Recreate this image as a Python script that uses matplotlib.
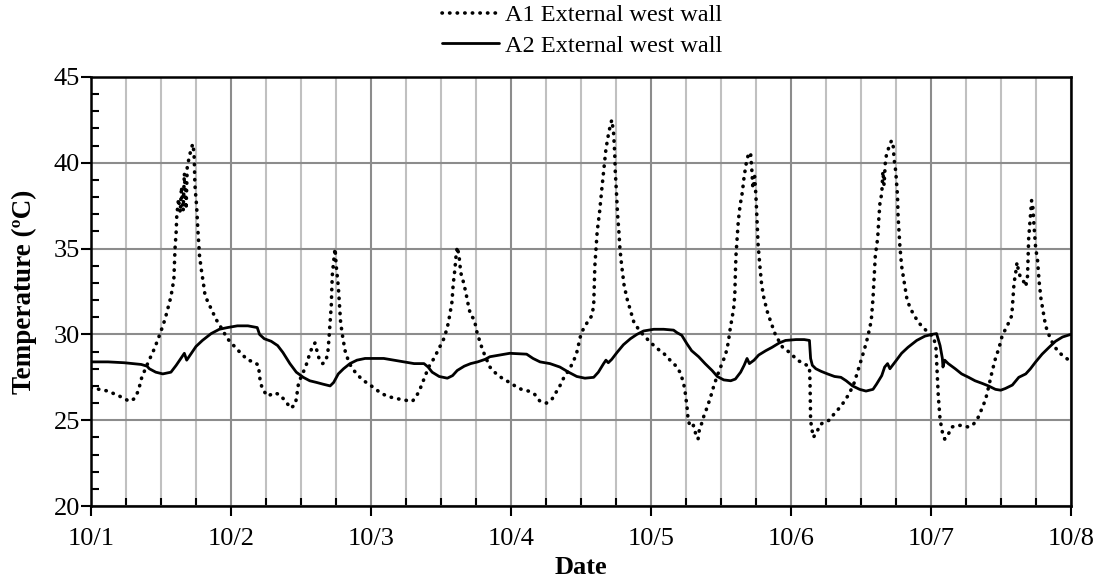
import matplotlib
matplotlib.use('Agg')
import matplotlib.pyplot as plt
from matplotlib.ticker import MultipleLocator

plt.rcParams['font.family'] = ['Liberation Serif', 'DejaVu Serif']

# A1 external west wall (dotted), hours since 10/1 00:00
a1_hours = [0, 1.4, 2.9, 4.9, 6.6, 7.4, 8.1, 8.7, 9.7, 10.9, 11.9, 12.7, 13.4, 13.7,
            14.2, 14.4, 14.6, 14.7, 15.0, 15.3, 15.5, 15.8, 16.0, 16.3, 16.5, 16.9,
            17.2, 17.5, 17.7, 17.8, 17.9, 18.1, 18.3, 18.6, 18.9, 19.3, 19.5, 20.0,
            20.6, 21.4, 22.3, 23.4, 24.6, 25.7, 26.9, 28.0, 28.7, 29.0, 29.4, 30.3,
            31.4, 32.3, 33.4, 34.2, 35.0, 35.2, 35.6, 36.4, 37.1, 37.5, 38.0, 38.4,
            38.7, 39.1, 39.7, 40.2, 40.6, 40.8, 41.0, 41.2, 41.3, 41.4, 41.6, 41.7,
            41.85, 42.0, 42.1, 42.4, 42.6, 42.8, 43.2, 43.6, 44.3, 45.3, 46.4, 47.6,
            48.5, 49.6, 50.8, 51.9, 53.3, 54.2, 55.1, 55.8, 56.4, 57.1, 57.9, 58.8,
            59.7, 60.5, 61.1, 61.5, 61.9, 62.1, 62.4, 62.6, 62.8, 63.1, 63.4, 63.9,
            64.3, 64.7, 65.1, 65.7, 66.2, 66.9, 67.5, 68.4, 69.5, 70.7, 71.8, 72.7,
            73.8, 75.0, 76.1, 77.0, 78.1, 79.0, 79.7, 80.4, 81.1, 81.9, 82.7, 83.3,
            83.9, 84.4, 85.1, 85.9, 86.2, 86.3, 86.4, 86.6, 86.8, 87.2, 87.6, 88.0,
            88.3, 88.7, 89.0, 89.3, 89.6, 89.8, 89.9, 90.1, 90.3, 90.5, 90.7, 91.0,
            91.4, 91.9, 92.5, 93.1, 93.9, 94.75, 95.9, 97.0, 98.2, 99.3, 100.2, 101.0,
            101.6, 101.9, 102.2, 102.4, 102.8, 103.3, 103.7, 104.1, 104.3, 104.7,
            105.1, 105.6, 106.2, 106.8, 107.4, 108.2, 108.8, 109.3, 109.5, 109.9,
            110.2, 110.4, 110.5, 110.6, 110.8, 111.0, 111.3, 111.7, 112.0, 112.4,
            112.7, 113.1, 113.3, 113.5, 113.8, 114.0, 114.1, 114.4, 114.7, 115.0,
            115.4, 116.0, 116.6, 117.4, 118.6, 120.0, 121.1, 122.3, 123.2, 123.3,
            123.35, 123.4, 123.6, 123.9, 124.2, 124.6, 124.9, 125.7, 126.6, 127.5,
            128.3, 129.2, 130.1, 130.9, 131.8, 132.6, 133.2, 133.8, 134.1, 134.3,
            134.5, 134.9, 135.1, 135.3, 135.6, 135.8, 136.0, 136.2, 136.4, 137.0,
            137.3, 137.6, 137.7, 138.0, 138.3, 138.4, 138.7, 139.0, 139.4, 139.9,
            140.4, 141.0, 141.9, 142.7, 143.6, 144.5, 144.9, 145.1, 145.3, 145.6,
            146.0, 146.4, 146.9, 147.6, 148.5, 149.3, 150.5, 151.4, 152.2, 152.8,
            153.4, 153.9, 154.5, 155.1, 155.7, 156.2, 156.8, 157.4, 157.9, 158.1,
            158.3, 158.5, 158.8, 159.1, 159.5, 160.0, 160.3, 160.6, 160.7, 160.8,
            161.1, 161.3, 161.5, 161.7, 162.0, 162.3, 162.6, 162.9, 163.3, 163.7,
            164.3, 165.1, 166.0, 166.9, 167.7, 168.0]
a1_temp = [26.9, 26.8, 26.7, 26.4, 26.1, 26.25, 26.7, 27.5, 28.3, 29.2, 30.1, 30.9, 31.8, 32.2,
           33.2, 35.0, 36.0, 36.9, 37.9, 37.1, 38.6, 37.2, 39.4, 37.3, 39.8, 40.4,
           40.9, 41.1, 40.25, 38.8, 38.3, 37.5, 36.2, 34.6, 33.8, 32.9, 32.4, 31.9,
           31.5, 30.9, 30.4, 29.75, 29.3, 28.9, 28.5, 28.4, 28.2, 27.3, 26.8, 26.4,
           26.6, 26.5, 26.1, 25.7, 25.9, 26.25, 27.2, 27.8, 28.4, 28.9, 29.3, 29.5,
           29.1, 28.6, 28.3, 28.4, 28.9, 29.75, 30.7, 31.7, 32.8, 33.6, 34.2, 34.6,
           35.0, 34.2, 33.8, 32.8, 31.7, 30.7, 29.75, 29.0, 28.3, 27.8, 27.4, 27.1,
           26.9, 26.6, 26.4, 26.3, 26.2, 26.15, 26.1, 26.4, 26.8, 27.4, 28.1, 28.6,
           29.2, 29.75, 30.4, 31.1, 31.9, 32.9, 33.8, 34.6, 35.1, 34.6, 33.6, 33.0,
           32.4, 31.7, 31.1, 30.9, 30.1, 29.35, 28.8, 28.1, 27.7, 27.4, 27.2, 27.0,
           26.8, 26.7, 26.5, 26.1, 26.0, 26.2, 26.6, 27.0, 27.5, 27.9, 28.4, 28.95,
           29.85, 30.3, 30.7, 31.1, 31.7, 32.9, 34.0, 35.0, 36.0, 37.1, 38.5, 39.8,
           40.8, 41.6, 42.1, 42.5, 41.8, 40.6, 39.5, 38.3, 36.95, 36.1, 35.0, 34.0,
           32.9, 32.1, 31.4, 30.7, 30.3, 29.95, 29.55, 29.2, 28.9, 28.5, 28.2, 27.8,
           27.2, 26.6, 25.8, 25.0, 24.6, 24.7, 24.2, 23.9, 24.4, 24.8,
           25.25, 25.7, 26.3, 27.0, 27.6, 28.3, 28.8, 29.55, 30.1, 30.9,
           31.5, 32.3, 33.6, 34.6, 35.6, 36.6, 37.5, 38.3, 39.2, 40.05,
           40.45, 40.6, 39.7, 38.5, 39.2, 38.2, 37.5, 35.2, 34.0, 32.9,
           32.1, 31.3, 30.7, 29.95, 29.25, 28.9, 28.5, 28.3, 28.1, 27.2,
           26.25, 25.0, 24.5, 24.0, 24.2, 24.4, 24.7, 24.9, 25.0, 25.4,
           25.7, 26.1, 26.6, 27.2, 28.2, 29.1, 29.85, 30.8, 32.1, 33.4,
           34.6, 35.6, 36.75, 37.7, 38.2, 39.5, 38.7, 39.95, 40.45, 41.1,
           41.3, 40.9, 40.25, 39.5, 38.1, 36.9, 35.2, 34.0, 33.15, 32.1,
           31.6, 31.2, 30.7, 30.4, 30.1, 29.85, 29.2, 27.8, 26.4, 25.05,
           24.3, 23.9, 24.1, 24.6, 24.7, 24.7, 24.6, 24.8, 25.2, 25.7,
           26.2, 26.9, 27.8, 28.6, 29.2, 29.85, 30.3, 30.7, 31.1, 32.1,
           33.05, 33.4, 34.2, 33.6, 33.25, 33.05, 32.8, 33.4, 34.6, 35.6,
           36.9, 37.8, 37.5, 36.4, 35.0, 34.4, 33.05, 32.1, 31.3, 30.5,
           29.95, 29.35, 28.95, 28.7, 28.5, 28.4]

# A2 external west wall (solid)
a2_hours = [0, 2.9, 5.7, 8.6, 9.6, 10.0, 11.1, 12.3, 13.7, 14.6, 15.4, 16.0, 16.4,
            17.1, 18.0, 19.1, 20.6, 22.0, 23.4, 25.1, 26.9, 28.5, 28.9, 29.7, 30.9,
            32.0, 32.9, 34.1, 35.2, 36.4, 37.5, 38.7, 39.8, 41.0, 41.6, 42.4, 43.3,
            44.4, 45.6, 47.0, 48.5, 50.2, 51.9, 53.6, 55.4, 57.1, 57.8, 58.5, 59.7,
            61.1, 62.0, 62.8, 64.0, 65.1, 66.3, 67.6, 68.4, 70.1, 71.8, 74.7, 75.8,
            77.0, 78.7, 80.4, 81.9, 83.3, 84.7, 86.2, 87.0, 87.9, 88.3, 88.7, 89.3,
            90.2, 91.3, 92.5, 93.6, 94.75, 96.5, 98.2, 99.9, 100.5, 101.3, 102.2,
            103.0, 104.2, 105.3, 106.5, 107.4, 108.5, 109.7, 110.5, 111.4, 112.0,
            112.5, 112.9, 113.7, 114.5, 115.7, 116.8, 118.0, 119.1, 120.9, 122.3,
            123.2, 123.4, 123.7, 124.3, 125.2, 126.3, 127.5, 128.6, 129.5, 130.6,
            131.8, 132.9, 134.1, 134.7, 135.6, 136.1, 136.6, 137.0, 137.9, 139.0,
            140.1, 141.6, 143.0, 144.2, 145.0, 145.6, 146.0, 146.1, 146.4, 147.0,
            148.2, 149.3, 150.5, 151.6, 152.8, 153.9, 155.1, 156.0, 156.8, 158.0,
            159.1, 160.3, 161.1, 162.0, 163.1, 164.3, 165.4, 166.6, 168.0]
a2_temp = [28.4, 28.4, 28.35, 28.25, 28.15, 28.0, 27.8, 27.7, 27.8, 28.2, 28.6, 28.9, 28.5,
           28.85, 29.3, 29.65, 30.05, 30.3, 30.4, 30.5, 30.5, 30.4, 30.0, 29.75, 29.6,
           29.35, 28.95, 28.3, 27.8, 27.5, 27.3, 27.2, 27.1, 27.0, 27.2, 27.7, 28.0,
           28.3, 28.5, 28.6, 28.6, 28.6, 28.5, 28.4, 28.3, 28.3, 28.1, 27.8, 27.55,
           27.45, 27.6, 27.9, 28.15, 28.3, 28.4, 28.55, 28.7, 28.8, 28.9, 28.85, 28.6,
           28.4, 28.3, 28.1, 27.8, 27.55, 27.45, 27.5, 27.8, 28.3, 28.5, 28.35, 28.55,
           28.95, 29.4, 29.75, 30.0, 30.2, 30.3, 30.3, 30.25, 30.1, 29.95, 29.45,
           29.05, 28.7, 28.3, 27.9, 27.55, 27.35, 27.3, 27.4, 27.8, 28.2,
           28.6, 28.3, 28.5, 28.8, 29.05, 29.25, 29.5, 29.65, 29.7, 29.7,
           29.65, 28.6, 28.2, 28.0, 27.85, 27.7, 27.55, 27.5, 27.3, 27.0,
           26.8, 26.7, 26.8, 27.1, 27.6, 28.1, 28.3, 28.0, 28.4, 28.9,
           29.25, 29.65, 29.9, 30.0, 30.05, 29.35, 28.6, 28.1, 28.5, 28.3,
           28.0, 27.7, 27.5, 27.3, 27.15, 27.0, 26.8, 26.75, 26.85, 27.05,
           27.5, 27.7, 28.0, 28.4, 28.85, 29.25, 29.6, 29.85, 30.0]

day_labels = ['10/1', '10/2', '10/3', '10/4', '10/5', '10/6', '10/7', '10/8']

fig = plt.figure(figsize=(10.97, 5.81), dpi=100)
ax = fig.add_axes([0.083, 0.129, 0.893, 0.7385])

a1_days = [h / 24 for h in a1_hours]
a2_days = [h / 24 for h in a2_hours]

ax.plot(a1_days, a1_temp, color='black', lw=2.6, linestyle=(0, (0.1, 2.0)),
        dash_capstyle='round', label='A1 External west wall', zorder=3)
ax.plot(a2_days, a2_temp, color='black', lw=2.0, solid_capstyle='round',
        label='A2 External west wall', zorder=4)

ax.set_xlim(0, 7)
ax.set_ylim(20, 45)
ax.set_xticks(range(len(day_labels)))
ax.set_xticklabels(day_labels)
ax.xaxis.set_minor_locator(MultipleLocator(0.25))
ax.yaxis.set_major_locator(MultipleLocator(5))
ax.yaxis.set_minor_locator(MultipleLocator(1))

# grid: horizontal at every 5, vertical every 6 h (days darker)
ax.grid(axis='y', which='major', color='#8c8c8c', lw=1.5)
ax.grid(axis='x', which='major', color='#8c8c8c', lw=1.5)
for d in range(28):
    if d % 4:
        ax.axvline(d / 4, color='#c0c0c0', lw=1.5, zorder=0)
ax.set_axisbelow(True)

ax.tick_params(axis='both', which='major', direction='out', length=7, width=1.5,
               labelsize=19, color='black')
ax.tick_params(axis='both', which='minor', direction='in', length=6, width=1.5,
               color='black')
ax.tick_params(axis='x', which='major', pad=9)
ax.tick_params(axis='y', which='major', pad=1)

for s in ax.spines.values():
    s.set_color('black')
    s.set_linewidth(1.8)

ax.set_xlabel('Date', fontsize=19, fontweight='bold', labelpad=4)
ax.set_ylabel('Temperature (ºC)', fontsize=19.5, fontweight='bold', labelpad=12)

fig.legend(loc='upper center', bbox_to_anchor=(0.531, 1.03), ncol=1, frameon=False,
           fontsize=17.5, handlelength=2.35, handletextpad=0.25, labelspacing=0.35)

fig.savefig('out.png', dpi=100)
